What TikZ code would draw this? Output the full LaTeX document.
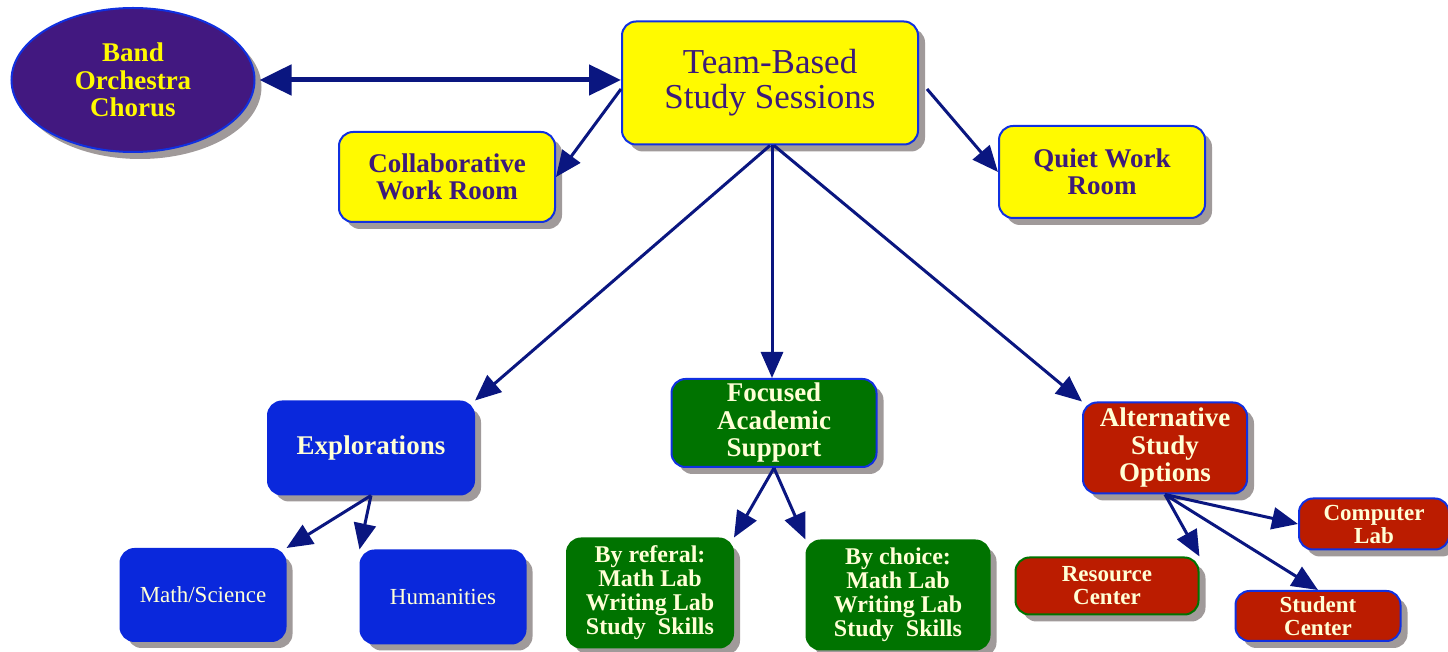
\documentclass[tikz,border=0pt]{standalone}
\usepackage{fontspec}
\setmainfont{Liberation Serif}
\usetikzlibrary{arrows.meta,shapes.geometric,shadows}
\definecolor{bandpurple}{RGB}{66,24,128}
\definecolor{textpurple}{RGB}{60,26,122}
\definecolor{hiyellow}{RGB}{255,250,0}
\definecolor{rimblue}{RGB}{16,48,224}
\definecolor{boxblue}{RGB}{10,40,220}
\definecolor{boxgreen}{RGB}{0,115,0}
\definecolor{boxred}{RGB}{187,28,0}
\definecolor{cream}{RGB}{255,255,214}
\definecolor{arrownavy}{RGB}{10,22,128}
\definecolor{shadowgray}{RGB}{160,154,154}
\tikzset{
  shade box/.style={drop shadow={shadow xshift=3.5pt,shadow yshift=-3.5pt,fill=shadowgray,opacity=1}},
  box/.style={shade box,rectangle,rounded corners=7pt,line width=1pt,inner sep=0pt,align=center},
  yelbox/.style={box,fill=hiyellow,draw=rimblue,text=textpurple},
  bluebox/.style={box,fill=boxblue,draw=boxblue,text=cream},
  greenbox/.style={box,fill=boxgreen,text=cream},
  redbox/.style={box,fill=boxred,text=cream},
  big/.style={font=\fontsize{17.5}{17.5}\selectfont},
  lab/.style={font=\fontsize{13.5}{13.75}\selectfont\bfseries},
  sub/.style={font=\fontsize{12}{12}\selectfont\bfseries},
  tiny/.style={font=\fontsize{11.5}{11.5}\selectfont\bfseries},
  plainlab/.style={font=\fontsize{11.5}{12}\selectfont},
  link/.style={draw=arrownavy,line width=1.5pt,-{Triangle[length=13pt,width=11pt]}}
}
\begin{document}
\begin{tikzpicture}[x=0.5pt,y=-0.5pt]
\useasboundingbox (0,0) rectangle (1448,652);
\node[shade box,ellipse,fill=bandpurple,draw=rimblue,line width=1pt,inner sep=0pt,
  minimum width=121.5pt,minimum height=72pt,text=hiyellow,align=center,lab] (band) at (133,80) {Band\\Orchestra\\Chorus};
\node[yelbox,big,minimum width=148pt,minimum height=61.5pt] (team) at (770,83) {Team-Based\\Study Sessions};
\node[yelbox,lab,minimum width=108pt,minimum height=45pt] (collab) at (447,177) {Collaborative\\Work Room};
\node[yelbox,lab,minimum width=103pt,minimum height=46pt] (quiet) at (1102,172) {Quiet Work\\Room};
\node[bluebox,lab,minimum width=103pt,minimum height=46.5pt] (expl) at (371,448) {Explorations};
\node[bluebox,plainlab,minimum width=82.5pt,minimum height=46pt] (math) at (203,595) {Math/Science};
\node[bluebox,plainlab,minimum width=82.5pt,minimum height=46.5pt] (hum) at (443,597) {Humanities};
\node[greenbox,draw=rimblue,lab,minimum width=102.5pt,minimum height=44pt] (focus) at (774,423) {Focused\\Academic\\Support};
\node[greenbox,draw=boxgreen,sub,minimum width=83pt,minimum height=54.5pt] (byref) at (650,593) {By referal:\\Math Lab\\Writing Lab\\Study~ Skills};
\node[greenbox,draw=boxgreen,sub,minimum width=91.5pt,minimum height=54.5pt] (bychoice) at (898,595) {By choice:\\Math Lab\\Writing Lab\\Study~ Skills};
\node[redbox,draw=rimblue,lab,minimum width=82pt,minimum height=45.5pt] (alt) at (1165,448) {Alternative\\Study\\Options};
\node[redbox,draw=rimblue,tiny,minimum width=75pt,minimum height=25.5pt] (comp) at (1374,524) {Computer\\Lab};
\node[redbox,draw=boxgreen,tiny,minimum width=91.5pt,minimum height=28.5pt] (res) at (1107,586) {Resource\\Center};
\node[redbox,draw=rimblue,tiny,minimum width=82.5pt,minimum height=25pt] (stud) at (1318,616) {Student\\Center};
\draw[draw=arrownavy,line width=2.5pt,{Triangle[length=16pt,width=15pt]}-{Triangle[length=16pt,width=15pt]}]
  ([xshift=2pt]band.east) -- (band.east -| team.west);
\draw[link] ([yshift=-3pt]team.west) -- (collab.east);
\draw[link] ([xshift=4pt,yshift=-3pt]team.east) -- (quiet.west);
\draw[link] (team.south) -- (expl.north east);
\draw[link] ([xshift=1pt]team.south) -- ([xshift=1pt]team.south |- focus.north);
\draw[link] ([xshift=2pt]team.south) -- (alt.north west);
\draw[link] (expl.south) -- (math.north east);
\draw[link] (expl.south) -- (hum.north west);
\draw[link] (focus.south) -- (byref.north east);
\draw[link] (focus.south) -- (bychoice.north west);
\draw[link] (alt.south) -- (res.north east);
\draw[link] (alt.south) -- (comp.west);
\draw[link] (alt.south) -- (stud.north);
\end{tikzpicture}
\end{document}
